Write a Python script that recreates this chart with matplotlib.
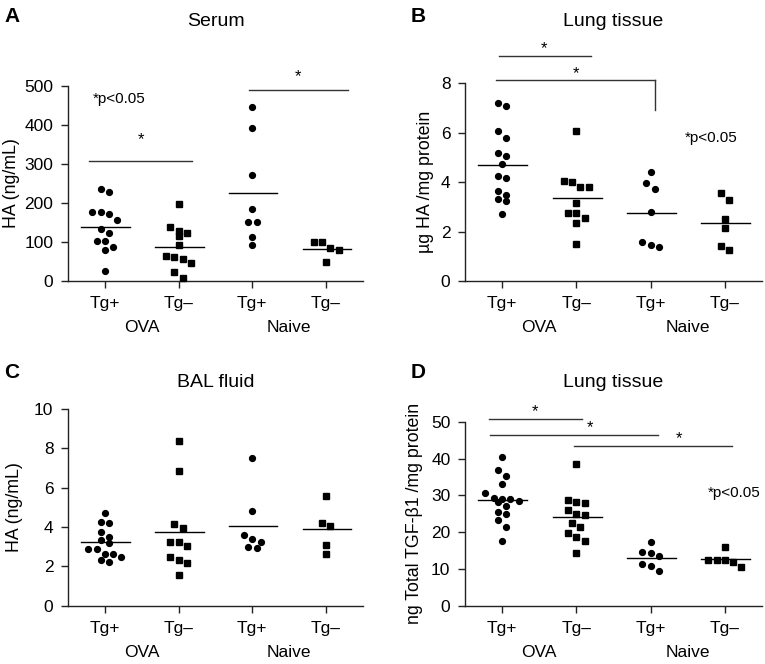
import numpy as np
import matplotlib
matplotlib.use("Agg")
import matplotlib.pyplot as plt

plt.rcParams['font.family'] = ['Liberation Sans', 'DejaVu Sans']

# --- data ---
categories = ["Tg+", "Tg\u2013", "Tg+", "Tg\u2013"]
groups = ["OVA", "Naive"]

serum_ova_pos = [234.6, 227, 176.6, 176.6, 171.5, 157, 134, 124, 103, 103, 87, 79, 26]
serum_ova_neg = [196, 138, 124, 129, 116, 92, 63, 57, 62, 45, 24, 7]
serum_naive_pos = [445, 391, 271, 184, 152, 152, 113, 92]
serum_naive_neg = [99, 99, 84, 79, 49]

lung_ha_ova_pos = [7.19, 7.08, 6.07, 5.80, 5.20, 5.07, 4.72, 4.26, 4.18, 3.66, 3.47, 3.33, 3.25, 2.70]
lung_ha_ova_neg = [6.07, 4.06, 4.02, 3.82, 3.82, 3.17, 2.74, 2.74, 2.56, 2.33, 1.50]
lung_ha_naive_pos = [4.40, 3.98, 3.71, 2.78, 1.57, 1.46, 1.39]
lung_ha_naive_neg = [3.55, 3.28, 2.51, 2.13, 1.43, 1.25]

bal_ova_pos = [4.73, 4.27, 4.22, 3.76, 3.51, 3.34, 3.17, 2.88, 2.88, 2.61, 2.61, 2.49, 2.32, 2.20]
bal_ova_neg = [8.37, 6.85, 4.15, 3.93, 3.22, 3.22, 3.05, 2.49, 2.32, 2.15, 1.56]
bal_naive_pos = [7.53, 4.81, 3.59, 3.37, 3.25, 3.00, 2.92]
bal_naive_neg = [5.59, 4.22, 4.07, 3.08, 2.61]

tgf_ova_pos = [40.5, 36.9, 35.2, 33.0, 30.5, 29.3, 29.0, 28.9, 28.5, 28.1, 27.1, 25.5, 24.9, 23.3, 21.3, 17.6]
tgf_ova_neg = [38.4, 28.7, 28.3, 27.8, 26.0, 24.8, 24.6, 22.6, 21.3, 19.7, 18.6, 17.6, 14.2]
tgf_naive_pos = [17.2, 14.7, 14.2, 13.5, 11.2, 10.8, 9.4]
tgf_naive_neg = [15.9, 12.4, 12.4, 12.4, 12.0, 10.4]

# significance bars: (x start, x end, bar y, star x, star y)
serum_bars = [(-0.22, 1.18, 306, 0.49, 361), (1.96, 3.30, 490, 2.62, 523)]
lung_ha_bars = [(-0.04, 1.20, 9.12, 0.57, 9.42), (-0.08, 2.06, 8.12, 1.00, 8.40)]
lung_ha_drop = (2.06, 8.12, 6.92)
tgf_bars = [(-0.18, 1.07, 50.6, 0.44, 52.7), (-0.16, 2.10, 46.4, 1.18, 48.5),
            (0.97, 3.09, 43.4, 2.38, 45.5)]

panels = [
    dict(letter="A", title="Serum", ylabel="HA (ng/mL)",
         data=[serum_ova_pos, serum_ova_neg, serum_naive_pos, serum_naive_neg],
         ylim=(0, 500), yticks=[0, 100, 200, 300, 400, 500],
         bars=serum_bars, note=(0.2, 465),
         rect=[0.0889, 0.5768, 0.3856, 0.2941], lab_x=-0.163),
    dict(letter="B", title="Lung tissue", ylabel="\u00b5g HA /mg protein",
         data=[lung_ha_ova_pos, lung_ha_ova_neg, lung_ha_naive_pos, lung_ha_naive_neg],
         ylim=(0, 8), yticks=[0, 2, 4, 6, 8],
         bars=lung_ha_bars, note=(2.81, 5.78),
         rect=[0.6078, 0.5768, 0.3882, 0.2977], lab_x=-0.104),
    dict(letter="C", title="BAL fluid", ylabel="HA (ng/mL)",
         data=[bal_ova_pos, bal_ova_neg, bal_naive_pos, bal_naive_neg],
         ylim=(0, 10), yticks=[0, 2, 4, 6, 8, 10],
         bars=[], note=None,
         rect=[0.0889, 0.0878, 0.3856, 0.2962], lab_x=-0.153),
    dict(letter="D", title="Lung tissue", ylabel="ng Total TGF-\u03b21 /mg protein",
         data=[tgf_ova_pos, tgf_ova_neg, tgf_naive_pos, tgf_naive_neg],
         ylim=(0, 50), yticks=[0, 10, 20, 30, 40, 50],
         bars=tgf_bars, note=(3.12, 30.5),
         rect=[0.6078, 0.0878, 0.3882, 0.2771], lab_x=-0.141),
]

axis_col = "#222222"


def swarm_offsets(ax, values, spacing_px=8.3, row_px=8.0):
    """GraphPad-like rows: nearby values are spread side by side, centred."""
    values = np.asarray(values, dtype=float)
    py = ax.transData.transform(np.column_stack([np.zeros(len(values)), values]))[:, 1]
    x0 = ax.transData.transform([(0, 0)])[0, 0]
    x1 = ax.transData.transform([(1, 0)])[0, 0]
    per_px = 1.0 / (x1 - x0)
    offsets = np.zeros(len(values))
    order = np.argsort(-values, kind="stable")
    row = []

    def flush(r):
        n = len(r)
        for k, idx in enumerate(r):
            offsets[idx] = (k - (n - 1) / 2) * spacing_px * per_px

    for idx in order:
        if row and py[row[0]] - py[idx] > row_px:
            flush(row)
            row = []
        row.append(idx)
    flush(row)
    return offsets


fig = plt.figure(figsize=(7.65, 6.64), dpi=100)

for p in panels:
    ax = fig.add_axes(p["rect"])
    ax.set_xlim(-0.5, 3.5)
    ax.set_ylim(*p["ylim"])
    ax.set_yticks(p["yticks"])
    ax.set_xticks(range(4))
    ax.set_xticklabels(categories)
    for s in ["top", "right"]:
        ax.spines[s].set_visible(False)
    for s in ["left", "bottom"]:
        ax.spines[s].set_color(axis_col)
        ax.spines[s].set_linewidth(1.0)
    ax.tick_params(axis="both", colors=axis_col, labelcolor="black", labelsize=12.5,
                   length=5, width=1.0, direction="out")
    ax.tick_params(axis="x", pad=6)
    ax.tick_params(axis="y", pad=5.5)
    ax.set_ylabel(p["ylabel"], fontsize=12.8)
    ax.yaxis.set_label_coords(p["lab_x"], 0.5)

    for i, vals in enumerate(p["data"]):
        off = swarm_offsets(ax, vals)
        marker = "o" if i % 2 == 0 else "s"
        ms = 4.2 if marker == "o" else 3.9
        ax.plot(i + off, vals, linestyle="none", marker=marker, ms=ms,
                color="black", clip_on=False, zorder=3)
        m = np.mean(vals)
        ax.plot([i - 0.32, i + 0.34], [m, m], color="black", lw=1.0, zorder=2)

    for x0, x1, y, sx, sy in p["bars"]:
        ax.plot([x0, x1], [y, y], color="#333333", lw=1.0, clip_on=False)
        ax.text(sx, sy, "*", ha="center", va="center", fontsize=12, clip_on=False)
    if p["letter"] == "B":
        dx, dy0, dy1 = lung_ha_drop
        ax.plot([dx, dx], [dy0, dy1], color="#333333", lw=1.0, clip_on=False)

    if p["note"] is not None:
        ax.text(p["note"][0], p["note"][1], "*p<0.05", ha="center", va="center",
                fontsize=11)

    for j, g in enumerate(groups):
        ax.annotate(g, xy=(2 * j + 0.5, 0), xycoords=("data", "axes fraction"),
                    xytext=(0, -28), textcoords="offset points",
                    ha="center", va="top", fontsize=12.5)

    r = p["rect"]
    cx = r[0] + r[2] / 2
    if p["letter"] in "AB":
        ty, ly = 0.968, 0.990
    else:
        ty, ly = 0.424, 0.454
    fig.text(cx, ty, p["title"], ha="center", va="center", fontsize=14)
    lx = 0.006 if p["letter"] in "AC" else 0.537
    fig.text(lx, ly, p["letter"], ha="left", va="top", fontsize=15, fontweight="bold")

fig.savefig("out.png", dpi=100)
